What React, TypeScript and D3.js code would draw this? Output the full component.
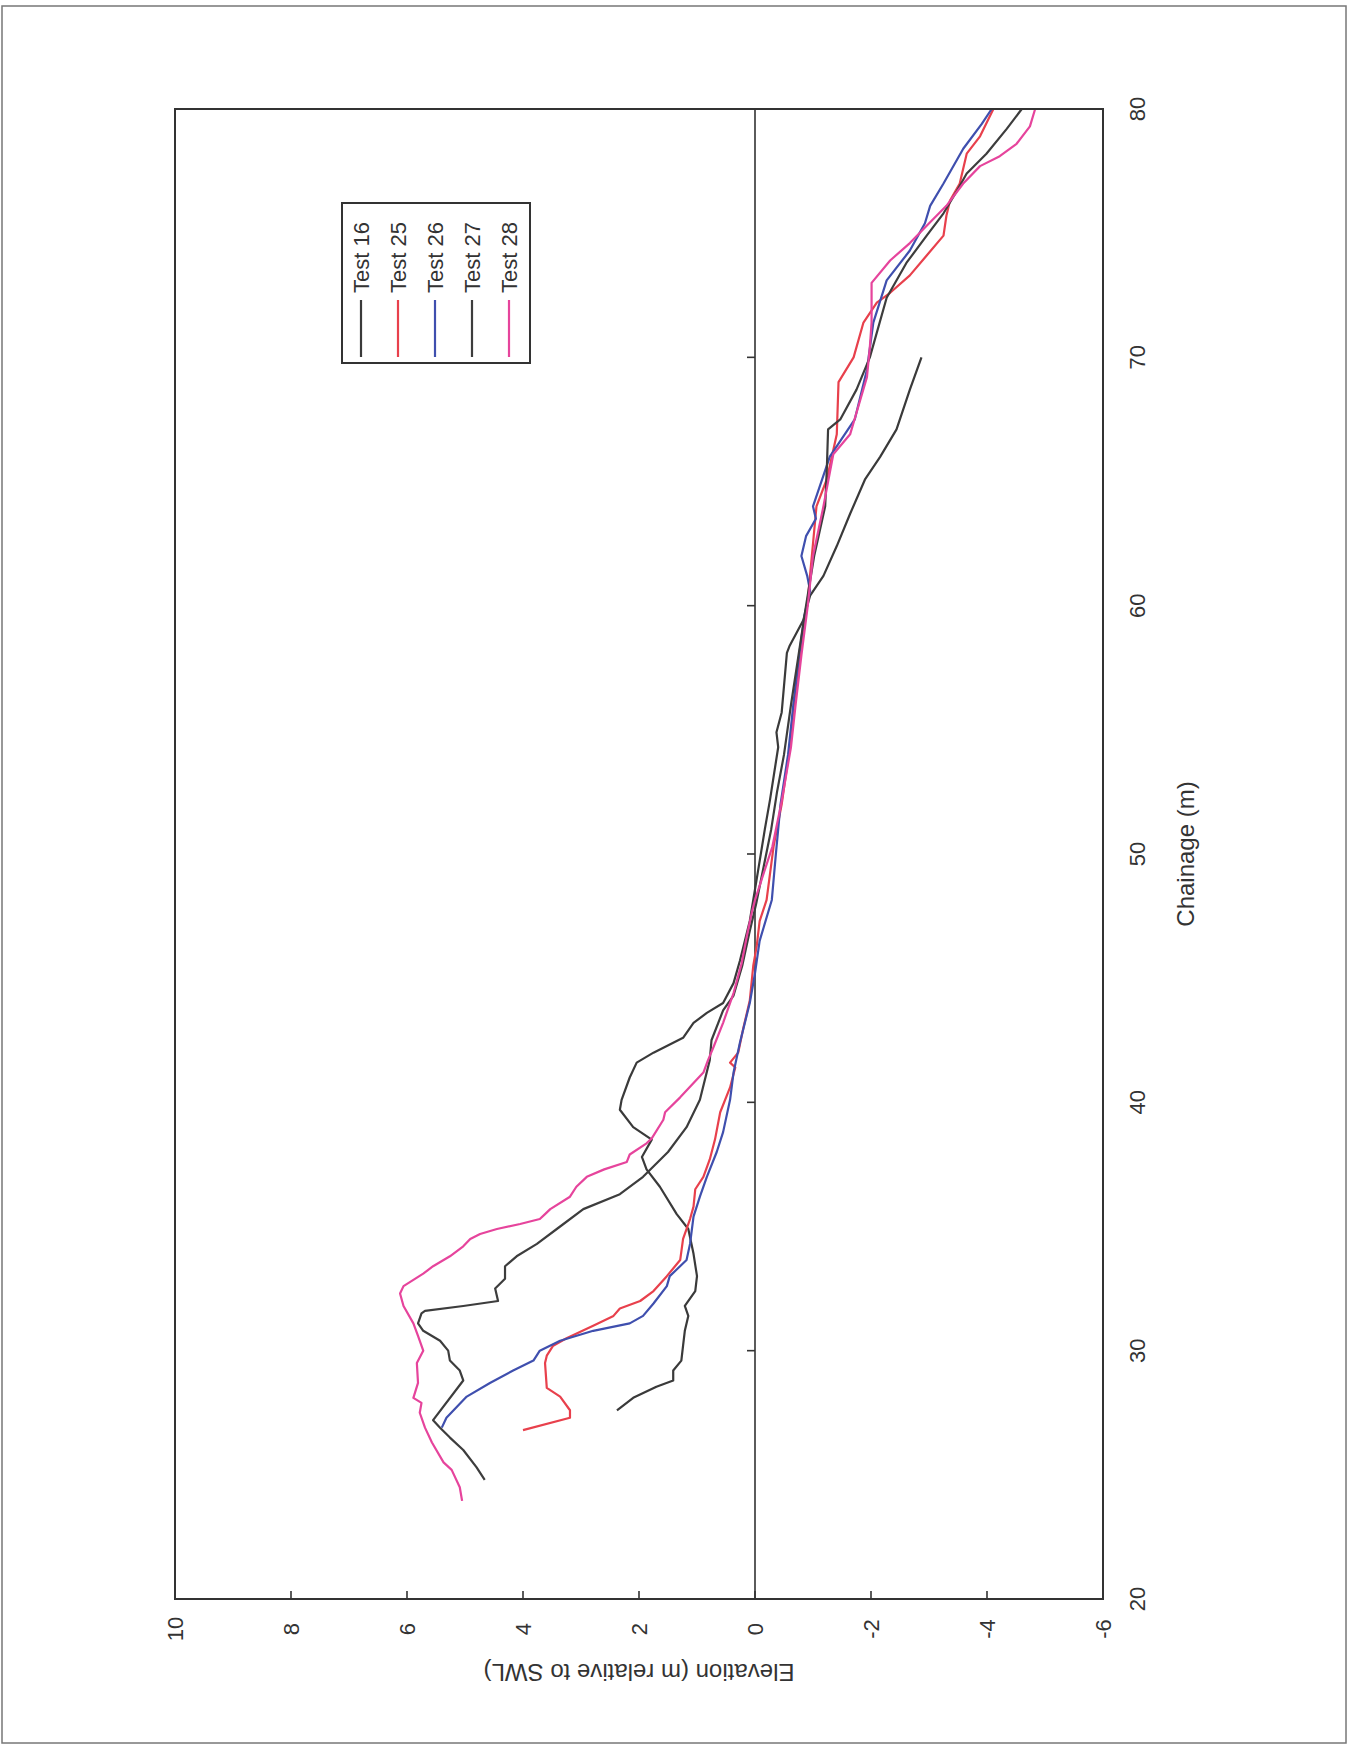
import React from "react";
import * as d3 from "d3";

// Chainage (m) vs Elevation (m relative to SWL); pairs are [chainage, elevation]
const ELEV_TICKS = [10, 8, 6, 4, 2, 0, -2, -4, -6];
const CHAIN_TICKS = [20, 30, 40, 50, 60, 70, 80];
const SERIES_NAMES = ["Test 16", "Test 25", "Test 26", "Test 27", "Test 28"];
const SERIES_COLORS = ["#3a3a3a", "#e8404c", "#3f4fae", "#3d3d3d", "#e6449c"];

const test16: [number, number][] = [
  [27.6, 2.38], [28.1, 2.1], [28.55, 1.7], [28.8, 1.41], [29.2, 1.41], [29.6, 1.27], [30.2, 1.24],
  [30.8, 1.21], [31.4, 1.15], [31.8, 1.21], [32.4, 1.03], [33.0, 1.0], [33.9, 1.06], [34.9, 1.15],
  [35.5, 1.35], [36.6, 1.64], [37.3, 1.87], [37.8, 1.95], [38.5, 1.78], [39.0, 2.1], [39.7, 2.33],
  [40.1, 2.3], [41.0, 2.16], [41.6, 2.04], [42.0, 1.75], [42.4, 1.41], [42.6, 1.24], [43.2, 1.06],
  [43.6, 0.83], [44.0, 0.55], [44.8, 0.37], [45.7, 0.26], [47.3, 0.09], [48.15, 0.03], [49.0, -0.03],
  [51.0, -0.17], [52.2, -0.26], [54.3, -0.4], [54.9, -0.37], [55.7, -0.46], [58.1, -0.55], [58.4, -0.6],
  [59.4, -0.83], [60.4, -0.95], [61.2, -1.18], [62.4, -1.41], [63.7, -1.64], [65.1, -1.9], [66.0, -2.16],
  [67.1, -2.44], [68.7, -2.67], [70.0, -2.87],
];

const test25: [number, number][] = [
  [26.8, 4.0], [27.3, 3.19], [27.6, 3.19], [28.15, 3.36], [28.5, 3.59], [29.5, 3.62], [29.8, 3.59],
  [30.2, 3.48], [30.5, 3.25], [31.0, 2.79], [31.4, 2.44], [31.7, 2.33], [32.0, 1.98], [32.4, 1.75],
  [33.0, 1.52], [33.65, 1.29], [34.5, 1.24], [35.3, 1.12], [35.8, 1.06], [36.5, 1.03], [37.0, 0.89],
  [37.7, 0.78], [38.5, 0.69], [39.6, 0.6], [40.6, 0.43], [41.4, 0.34], [41.6, 0.43], [42.0, 0.29],
  [43.0, 0.2], [44.1, 0.09], [45.5, 0.03], [46.3, -0.03], [47.3, -0.08], [48.15, -0.2], [50.3, -0.32],
  [52.0, -0.46], [54.3, -0.6], [56.0, -0.67], [58.0, -0.78], [60.0, -0.9], [62.0, -0.98], [64.0, -1.06],
  [65.1, -1.24], [66.9, -1.41], [69.0, -1.44], [70.0, -1.7], [71.4, -1.87], [72.2, -2.1], [72.6, -2.33],
  [73.3, -2.67], [74.1, -2.96], [74.9, -3.25], [75.7, -3.3], [76.3, -3.36], [77.0, -3.53], [78.2, -3.65],
  [78.9, -3.88], [80.0, -4.11],
];

const test26: [number, number][] = [
  [26.9, 5.4], [27.3, 5.32], [28.15, 4.97], [28.7, 4.57], [29.2, 4.17], [29.6, 3.82], [30.0, 3.71],
  [30.4, 3.36], [30.8, 2.79], [31.1, 2.16], [31.4, 1.93], [31.9, 1.75], [32.6, 1.52], [33.0, 1.47],
  [33.65, 1.18], [34.3, 1.12], [35.4, 1.06], [36.2, 0.95], [37.0, 0.83], [38.0, 0.66], [38.8, 0.55],
  [40.1, 0.43], [41.2, 0.37], [42.4, 0.26], [44.0, 0.09], [45.2, 0.0], [46.5, -0.08], [48.15, -0.29],
  [50.0, -0.36], [52.0, -0.44], [54.0, -0.57], [56.0, -0.66], [58.0, -0.76], [59.7, -0.86], [60.6, -0.95],
  [61.2, -0.9], [62.0, -0.8], [62.8, -0.88], [63.5, -1.05], [64.0, -1.0], [66.0, -1.29], [67.5, -1.72],
  [69.5, -1.93], [71.4, -2.04], [73.1, -2.27], [74.3, -2.67], [75.4, -2.93], [76.1, -3.02], [77.0, -3.25],
  [78.4, -3.59], [79.4, -3.91], [80.0, -4.08],
];

const test27: [number, number][] = [
  [24.8, 4.66], [25.3, 4.8], [26.0, 5.03], [26.5, 5.26], [26.9, 5.43], [27.2, 5.55], [28.8, 5.03],
  [29.2, 5.09], [29.6, 5.26], [30.0, 5.29], [30.4, 5.43], [30.8, 5.72], [31.1, 5.81], [31.5, 5.75],
  [31.6, 5.69], [31.8, 5.03], [32.0, 4.43], [32.5, 4.48], [32.9, 4.31], [33.4, 4.31], [33.8, 4.11],
  [34.3, 3.76], [35.0, 3.36], [35.7, 2.96], [36.3, 2.33], [37.0, 1.93], [38.0, 1.5], [39.0, 1.18],
  [40.1, 0.95], [41.7, 0.78], [42.5, 0.75], [43.7, 0.55], [44.3, 0.37], [45.5, 0.22], [46.8, 0.1],
  [48.0, -0.02], [49.5, -0.15], [51.0, -0.28], [52.5, -0.38], [54.0, -0.5], [56.0, -0.62], [58.0, -0.75],
  [60.0, -0.88], [62.0, -1.02], [64.0, -1.21], [65.6, -1.24], [67.1, -1.26], [67.5, -1.47], [68.7, -1.75],
  [70.0, -1.98], [72.4, -2.27], [73.8, -2.61], [74.9, -2.96], [75.8, -3.25], [76.7, -3.48], [77.4, -3.65],
  [78.2, -3.99], [79.2, -4.34], [80.0, -4.6],
];

const test28: [number, number][] = [
  [23.95, 5.05], [24.5, 5.09], [25.2, 5.23], [25.5, 5.37], [26.3, 5.57], [26.9, 5.69], [27.5, 5.78],
  [27.9, 5.75], [28.1, 5.89], [28.7, 5.81], [29.5, 5.83], [30.0, 5.72], [30.6, 5.81], [31.1, 5.89],
  [31.8, 6.06], [32.3, 6.12], [32.6, 6.06], [33.1, 5.72], [33.4, 5.55], [33.8, 5.26], [34.2, 5.03],
  [34.5, 4.91], [34.7, 4.74], [34.9, 4.45], [35.1, 4.05], [35.3, 3.71], [35.5, 3.62], [35.7, 3.53],
  [36.2, 3.19], [36.6, 3.08], [37.0, 2.9], [37.3, 2.6], [37.6, 2.21], [37.9, 2.16], [38.35, 1.87],
  [38.55, 1.78], [39.3, 1.58], [39.6, 1.55], [40.2, 1.29], [41.2, 0.89], [41.7, 0.81], [42.2, 0.72],
  [43.2, 0.55], [44.4, 0.37], [45.6, 0.23], [46.7, 0.14], [47.6, 0.06], [48.15, 0.0], [50.3, -0.3],
  [52.0, -0.45], [54.3, -0.62], [56.0, -0.7], [58.0, -0.8], [60.0, -0.91], [62.0, -1.0], [64.0, -1.18],
  [66.1, -1.35], [66.9, -1.64], [69.2, -1.93], [70.4, -1.98], [71.4, -2.01], [73.0, -2.01], [73.9, -2.33],
  [74.6, -2.67], [75.3, -2.96], [76.1, -3.3], [77.0, -3.59], [77.7, -3.88], [78.1, -4.22], [78.6, -4.51],
  [79.3, -4.74], [80.0, -4.83],
];

const SERIES = [test16, test25, test26, test27, test28];

export default function App() {
  const W = 1354;
  const H = 1747;
  const left = 175, right = 1103, top = 109, bottom = 1599;
  // page is rotated: elevation runs horizontally (10 at left), chainage vertically (80 at top)
  const x = d3.scaleLinear().domain([10, -6]).range([left, right]);
  const y = d3.scaleLinear().domain([20, 80]).range([bottom, top]);
  const line = d3
    .line<[number, number]>()
    .x((d) => x(d[1]))
    .y((d) => y(d[0]));
  const font = "'Liberation Sans', Arial, sans-serif";
  const ink = "#333";
  const x0 = x(0);
  const legX0 = 361, legDx = 37;

  return (
    <svg
      width={W}
      height={H}
      style={{ position: "absolute", left: 0, top: 0, background: "#fff" }}
      fontFamily={font}
    >
      <rect x={0} y={0} width={W} height={H} fill="#fff" />
      {/* page border */}
      <rect x={2} y={6} width={1344} height={1737} fill="none" stroke="#777" strokeWidth={1.5} />

      {/* zero line (SWL) with chainage ticks */}
      <line x1={x0} x2={x0} y1={top} y2={bottom} stroke={ink} strokeWidth={1.6} />
      {CHAIN_TICKS.slice(1, -1).map((c) => (
        <line key={"ct" + c} x1={x0 - 8} x2={x0} y1={y(c)} y2={y(c)} stroke={ink} strokeWidth={1.6} />
      ))}
      {/* elevation ticks on bottom frame */}
      {ELEV_TICKS.slice(1, -1).map((e) => (
        <line key={"et" + e} x1={x(e)} x2={x(e)} y1={bottom} y2={bottom - 8} stroke={ink} strokeWidth={1.6} />
      ))}

      {/* series */}
      {SERIES.map((s, i) => (
        <path key={SERIES_NAMES[i]} d={line(s) || ""} fill="none" stroke={SERIES_COLORS[i]} strokeWidth={2.2} strokeLinejoin="round" />
      ))}

      {/* plot frame */}
      <rect x={left} y={top} width={right - left} height={bottom - top} fill="none" stroke={ink} strokeWidth={2} />

      {/* elevation tick labels */}
      {ELEV_TICKS.map((e) => (
        <text
          key={"el" + e}
          transform={`translate(${x(e)},1629) rotate(-90)`}
          textAnchor="middle"
          dominantBaseline="central"
          fontSize={22}
          fill={ink}
        >
          {String(e)}
        </text>
      ))}
      {/* chainage tick labels */}
      {CHAIN_TICKS.map((c) => (
        <text
          key={"cl" + c}
          transform={`translate(1137,${y(c)}) rotate(-90)`}
          textAnchor="middle"
          dominantBaseline="central"
          fontSize={22}
          fill={ink}
        >
          {String(c)}
        </text>
      ))}
      {/* axis titles */}
      <text
        transform={`translate(1185,${(top + bottom) / 2}) rotate(-90)`}
        textAnchor="middle"
        dominantBaseline="central"
        fontSize={24}
        fill={ink}
      >
        Chainage (m)
      </text>
      <text
        transform={`translate(${(left + right) / 2},1672) rotate(180)`}
        textAnchor="middle"
        dominantBaseline="central"
        fontSize={24}
        fill={ink}
      >
        Elevation (m relative to SWL)
      </text>

      {/* legend */}
      <rect x={342} y={203} width={188} height={160} fill="#fff" stroke={ink} strokeWidth={2} />
      {SERIES_NAMES.map((n, i) => (
        <g key={"lg" + n}>
          <line x1={legX0 + i * legDx} x2={legX0 + i * legDx} y1={300} y2={357} stroke={SERIES_COLORS[i]} strokeWidth={2.2} />
          <text
            transform={`translate(${legX0 + i * legDx},293) rotate(-90)`}
            textAnchor="start"
            dominantBaseline="central"
            fontSize={22}
            fill={ink}
          >
            {n}
          </text>
        </g>
      ))}
    </svg>
  );
}
